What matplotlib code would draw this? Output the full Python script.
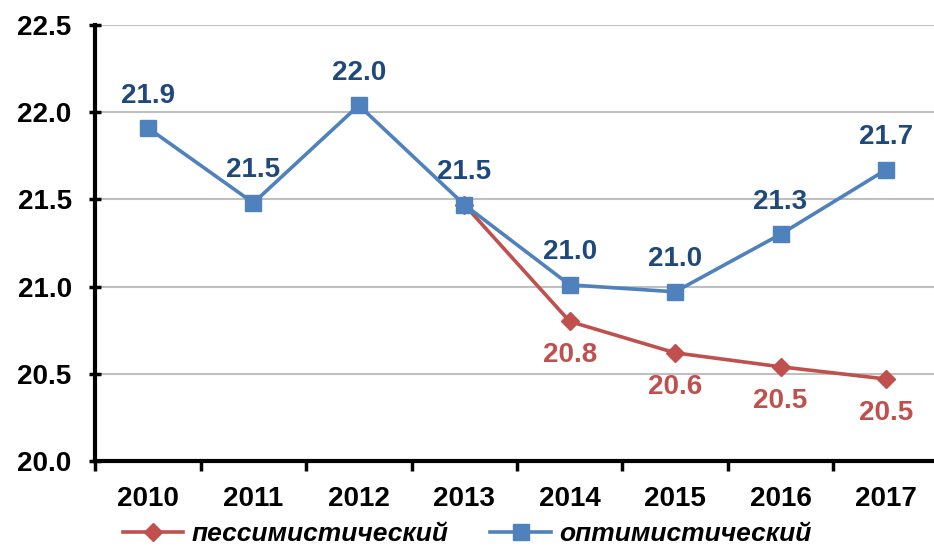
import matplotlib
matplotlib.use("Agg")
import matplotlib.pyplot as plt

years = ["2010", "2011", "2012", "2013", "2014", "2015", "2016", "2017"]
optimistic = [21.91, 21.48, 22.04, 21.47, 21.01, 20.97, 21.30, 21.67]
pessimistic_years = ["2013", "2014", "2015", "2016", "2017"]
pessimistic = [21.47, 20.80, 20.62, 20.54, 20.47]

blue = "#4F81BD"
blue_txt = "#1F497D"
red = "#C0504D"

plt.rcParams['font.family'] = ['Liberation Sans', 'DejaVu Sans']
plt.rcParams['font.weight'] = 'bold'

fig = plt.figure(figsize=(9.34, 5.58), dpi=100)
ax = fig.add_axes([0.102, 0.174, 0.903, 0.781])

xs = list(range(len(years)))
px = [years.index(y) for y in pessimistic_years]

ax.plot(px, pessimistic, color=red, lw=2.6, marker="D", markersize=9,
        label="пессимистический", zorder=3)
ax.plot(xs, optimistic, color=blue, lw=2.6, marker="s", markersize=11,
        label="оптимистический", zorder=4)

for x, v in zip(xs, optimistic):
    ax.annotate(f"{v:.1f}", (x, v), xytext=(0, 14), textcoords="offset points",
                ha="center", va="bottom", color=blue_txt, fontsize=20, fontweight="bold")
for x, v in zip(px[1:], pessimistic[1:]):
    ax.annotate(f"{v:.1f}", (x, v), xytext=(0, -15), textcoords="offset points",
                ha="center", va="top", color=red, fontsize=20, fontweight="bold")

ax.set_xlim(-0.5, 7.5)
ax.set_ylim(20.0, 22.5)
ax.set_yticks([20.0, 20.5, 21.0, 21.5, 22.0, 22.5])
ax.set_yticklabels([f"{t:.1f}" for t in [20.0, 20.5, 21.0, 21.5, 22.0, 22.5]])
ax.yaxis.grid(True, color="#BFBFBF", lw=1.5)
ax.set_axisbelow(True)

ax.set_xticks(xs)
ax.set_xticklabels(years)
ax.set_xticks([i - 0.5 for i in range(9)], minor=True)
ax.tick_params(axis="x", which="major", length=0, pad=18, labelsize=20)
ax.tick_params(axis="x", which="minor", length=7, width=2.5, direction="out", color="black")
ax.tick_params(axis="y", length=8, width=2.5, direction="inout", pad=13, labelsize=20)

for s in ["top", "right"]:
    ax.spines[s].set_visible(False)
for s in ["left", "bottom"]:
    ax.spines[s].set_linewidth(3)
    ax.spines[s].set_color("black")

fig.legend(loc="lower center", bbox_to_anchor=(0.5, -0.01), ncol=2, frameon=False,
           prop={"size": 19, "style": "italic", "weight": "bold"},
           handlelength=2.3, columnspacing=1.6, handletextpad=0.3,
           borderpad=0.15)

fig.savefig("out.png", dpi=100)
